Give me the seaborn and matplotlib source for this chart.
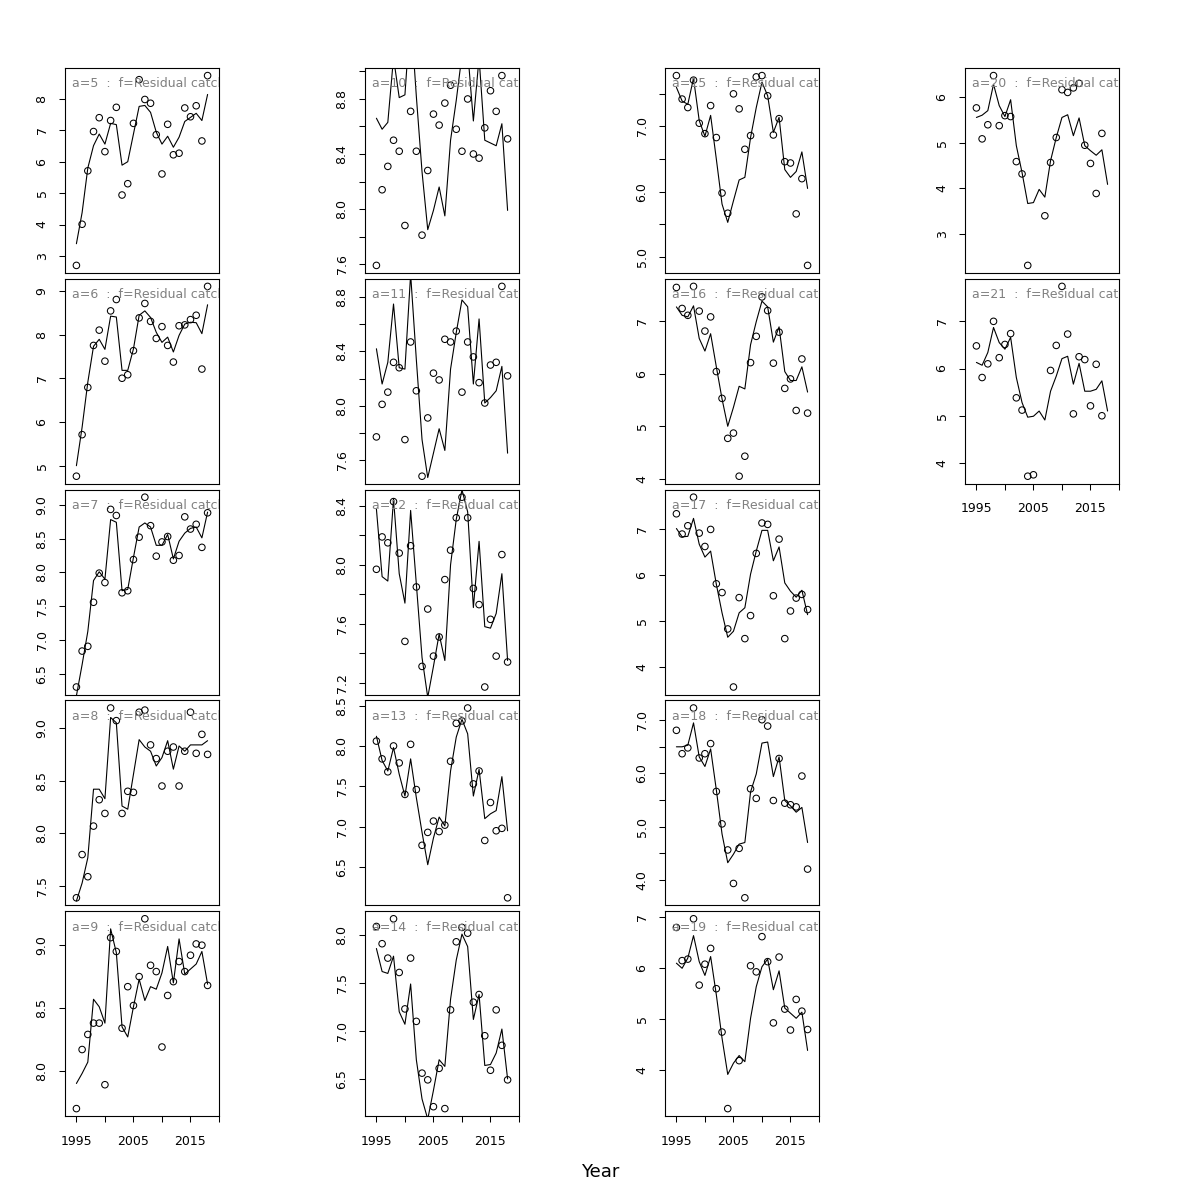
"""
Residual catch fits by age: observed (open circles) vs fitted (line), one panel per age.
"""

import numpy as np
import pandas as pd
import matplotlib
matplotlib.use("Agg")
import matplotlib.pyplot as plt
import seaborn as sns

nan = np.nan

YEARS = list(range(1995, 2019))

# observed (points) and fitted (line) values for each age
OBS_5 = [2.70, 4.01, 5.71, 6.96, 7.40, 6.32, 7.31, 7.73, 4.94, 5.30, 7.22, 8.61,
         7.98, 7.86, 6.86, 5.61, 7.19, 6.22, 6.27, 7.71, 7.43, 7.78, 6.66, 8.74]
FIT_5 = [3.39, 4.38, 5.80, 6.51, 6.88, 6.56, 7.22, 7.18, 5.89, 6.00, 6.88, 7.76,
         7.79, 7.57, 6.94, 6.56, 6.81, 6.46, 6.78, 7.28, 7.41, 7.54, 7.31, 8.14]

OBS_6 = [4.76, 5.71, 6.79, 7.75, 8.10, 7.39, 8.54, 8.80, 7.00, 7.08, 7.63, 8.38,
         8.71, 8.30, 7.91, 8.18, 7.75, 7.37, 8.20, 8.22, 8.34, 8.44, 7.21, 9.10]
FIT_6 = [5.00, 5.88, 6.91, 7.73, 7.89, 7.66, 8.42, 8.40, 7.18, 7.18, 7.67, 8.44,
         8.54, 8.39, 8.05, 7.82, 7.94, 7.60, 7.98, 8.24, 8.28, 8.27, 8.02, 8.68]

OBS_7 = [6.31, 6.84, 6.91, 7.56, 7.99, 7.85, 8.93, 8.84, 7.70, 7.73, 8.19, 8.52,
         9.11, 8.69, 8.24, 8.45, 8.53, 8.18, 8.25, 8.82, 8.64, 8.71, 8.37, 8.88]
FIT_7 = [6.18, 6.64, 7.13, 7.88, 8.01, 7.90, 8.78, 8.74, 7.73, 7.75, 8.22, 8.67,
         8.73, 8.67, 8.40, 8.40, 8.56, 8.20, 8.46, 8.58, 8.65, 8.67, 8.51, 8.89]

OBS_8 = [7.39, 7.80, 7.59, 8.07, 8.32, 8.19, 9.19, 9.07, 8.19, 8.40, 8.39, 9.15,
         9.17, 8.84, 8.71, 8.45, 8.78, 8.82, 8.45, 8.78, 9.15, 8.76, 8.94, 8.75]
FIT_8 = [7.36, 7.53, 7.77, 8.42, 8.42, 8.33, 9.10, 9.05, 8.26, 8.23, 8.56, 8.89,
         8.82, 8.78, 8.64, 8.72, 8.88, 8.61, 8.83, 8.78, 8.84, 8.84, 8.84, 8.88]

OBS_9 = [7.70, 8.17, 8.29, 8.38, 8.38, 7.89, 9.06, 8.95, 8.34, 8.67, 8.52, 8.75,
         9.21, 8.84, 8.79, 8.19, 8.60, 8.71, 8.87, 8.79, 8.92, 9.01, 9.00, 8.68]
FIT_9 = [7.90, 7.98, 8.07, 8.57, 8.51, 8.38, 9.13, 8.94, 8.35, 8.27, 8.51, 8.73,
         8.56, 8.67, 8.65, 8.78, 8.99, 8.70, 9.05, 8.77, 8.81, 8.85, 8.95, 8.69]

OBS_10 = [7.59, 8.14, 8.31, 8.50, 8.42, 7.88, 8.71, 8.42, 7.81, 8.28, 8.69, 8.61,
          8.77, 8.90, 8.58, 8.42, 8.80, 8.40, 8.37, 8.59, 8.86, 8.71, 8.97, 8.51]
FIT_10 = [8.66, 8.58, 8.63, 9.10, 8.81, 8.83, 9.43, 8.82, 8.27, 7.85, 7.99, 8.16,
          7.95, 8.50, 8.79, 9.12, 9.15, 8.64, 9.10, 8.50, 8.48, 8.46, 8.62, 7.99]

OBS_11 = [7.77, 8.01, 8.10, 8.32, 8.28, 7.75, 8.47, 8.11, 7.48, 7.91, 8.24, 8.19,
          8.49, 8.47, 8.55, 8.10, 8.47, 8.36, 8.17, 8.02, 8.30, 8.32, 8.88, 8.22]
FIT_11 = [8.42, 8.16, 8.32, 8.75, 8.28, 8.27, 8.97, 8.34, 7.75, 7.47, 7.65, 7.83,
          7.67, 8.27, 8.54, 8.78, 8.73, 8.16, 8.64, 8.02, 8.06, 8.11, 8.29, 7.65]

OBS_12 = [7.97, 8.19, 8.15, 8.43, 8.08, 7.48, 8.13, 7.85, 7.31, 7.70, 7.38, 7.51,
          7.90, 8.10, 8.32, 8.46, 8.32, 7.84, 7.73, 7.17, 7.63, 7.38, 8.07, 7.34]
FIT_12 = [8.38, 7.92, 7.89, 8.45, 7.94, 7.74, 8.37, 7.87, 7.37, 7.10, 7.31, 7.53,
          7.35, 8.00, 8.31, 8.51, 8.36, 7.71, 8.16, 7.58, 7.57, 7.67, 7.94, 7.35]

OBS_13 = [8.06, 7.84, 7.68, 8.00, 7.79, 7.40, 8.02, 7.46, 6.77, 6.93, 7.07, 6.94,
          7.02, 7.81, 8.28, 8.31, 8.47, 7.53, 7.69, 6.83, 7.30, 6.95, 6.98, 6.12]
FIT_13 = [8.12, 7.82, 7.69, 7.98, 7.65, 7.38, 7.84, 7.36, 6.93, 6.53, 6.86, 7.12,
          7.01, 7.69, 8.11, 8.33, 8.15, 7.38, 7.71, 7.10, 7.16, 7.20, 7.62, 6.95]

OBS_14 = [8.09, 7.91, 7.76, 8.17, 7.61, 7.23, 7.76, 7.10, 6.56, 6.49, 6.21, 6.61,
          6.19, 7.22, 7.93, 8.08, 8.02, 7.30, 7.38, 6.95, 6.59, 7.22, 6.85, 6.49]
FIT_14 = [7.86, 7.62, 7.60, 7.78, 7.20, 7.07, 7.49, 6.70, 6.29, 6.08, 6.38, 6.70,
          6.63, 7.33, 7.74, 8.01, 7.88, 7.12, 7.38, 6.64, 6.65, 6.77, 7.02, 6.50]

OBS_15 = [7.78, 7.42, 7.29, 7.71, 7.05, 6.89, 7.32, 6.83, 5.98, 5.67, 7.50, 7.27,
          6.65, 6.86, 7.76, 7.78, 7.47, 6.87, 7.12, 6.46, 6.44, 5.66, 6.20, 4.87]
FIT_15 = [7.60, 7.39, 7.34, 7.74, 7.09, 6.85, 7.17, 6.50, 5.81, 5.53, 5.86, 6.18,
          6.22, 6.83, 7.29, 7.68, 7.47, 6.91, 7.14, 6.34, 6.22, 6.31, 6.61, 6.05]

OBS_16 = [7.64, 7.24, 7.11, 7.66, 7.19, 6.81, 7.08, 6.04, 5.53, 4.77, 4.87, 4.05,
          4.43, 6.21, 6.71, 7.46, 7.20, 6.20, 6.79, 5.72, 5.90, 5.30, 6.28, 5.25]
FIT_16 = [7.27, 7.11, 7.08, 7.29, 6.67, 6.43, 6.76, 6.13, 5.52, 5.00, 5.36, 5.76,
          5.71, 6.55, 6.99, 7.38, 7.27, 6.60, 6.89, 6.04, 5.87, 5.87, 6.13, 5.65]

OBS_17 = [7.32, 6.88, 7.06, 7.68, 6.90, 6.61, 6.98, 5.80, 5.61, 4.82, 3.56, 5.50,
          4.61, 5.11, 6.46, 7.12, 7.09, 5.54, 6.77, 4.61, 5.21, 5.49, 5.57, 5.24]
FIT_17 = [7.00, 6.82, 6.83, 7.22, 6.66, 6.38, 6.51, 5.79, 5.17, 4.64, 4.77, 5.17,
          5.28, 6.01, 6.51, 6.96, 6.96, 6.30, 6.60, 5.82, 5.64, 5.51, 5.66, 5.13]

OBS_18 = [6.81, 6.37, 6.48, 7.23, 6.29, 6.37, 6.56, 5.66, 5.05, 4.56, 3.93, 4.59,
          3.66, 5.71, 5.53, 7.01, 6.89, 5.49, 6.28, 5.44, 5.41, 5.37, 5.95, 4.20]
FIT_18 = [6.50, 6.50, 6.53, 6.95, 6.31, 6.13, 6.46, 5.69, 4.86, 4.32, 4.48, 4.67,
          4.70, 5.65, 5.99, 6.57, 6.59, 5.94, 6.31, 5.49, 5.39, 5.27, 5.36, 4.70]

OBS_19 = [6.80, 6.15, 6.18, 6.97, 5.67, 6.08, 6.39, 5.60, 4.75, 3.25, nan, 4.19,
          nan, 6.05, 5.93, 6.62, 6.13, 4.93, 6.22, 5.20, 4.79, 5.39, 5.16, 4.80]
FIT_19 = [6.10, 6.00, 6.20, 6.64, 6.13, 5.86, 6.23, 5.48, 4.63, 3.92, 4.14, 4.29,
          4.17, 5.02, 5.64, 6.03, 6.18, 5.58, 5.95, 5.22, 5.12, 5.02, 5.14, 4.39]

OBS_20 = [5.77, 5.09, 5.40, 6.48, 5.38, 5.60, 5.58, 4.59, 4.32, 2.31, nan, nan,
          3.40, 4.57, 5.12, 6.17, 6.11, 6.21, 6.31, 4.95, 4.55, 3.89, 5.21, nan]
FIT_20 = [5.56, 5.61, 5.71, 6.29, 5.82, 5.58, 5.95, 4.94, 4.35, 3.67, 3.69, 3.98,
          3.81, 4.61, 5.12, 5.56, 5.62, 5.16, 5.55, 4.94, 4.83, 4.73, 4.85, 4.09]

OBS_21 = [6.48, 5.81, 6.10, 7.00, 6.23, 6.51, 6.74, 5.38, 5.12, 3.72, 3.75, nan,
          nan, 5.96, 6.49, 7.74, 6.73, 5.04, 6.25, 6.19, 5.21, 6.09, 5.00, nan]
FIT_21 = [6.13, 6.07, 6.34, 6.87, 6.55, 6.41, 6.66, 5.81, 5.28, 4.97, 4.99, 5.10,
          4.91, 5.52, 5.84, 6.21, 6.26, 5.67, 6.11, 5.52, 5.52, 5.56, 5.74, 5.10]

AGES = list(range(5, 22))
SERIES = {a: (globals()[f"OBS_{a}"], globals()[f"FIT_{a}"]) for a in AGES}
FLEET = "Residual catch"
X_TICKS = [1995, 2000, 2005, 2010, 2015, 2020]
X_LABELS = ["1995", "", "2005", "", "2015", ""]


def r_pretty_unit(lo, hi, n=5, h=0.8, h5=1.7):
    """Tick step the way R's axis() picks it."""
    cell = (hi - lo) / n
    base = 10 ** np.floor(np.log10(cell))
    unit = base
    if 2 * base - cell < h * (cell - unit):
        unit = 2 * base
        if 5 * base - cell < h5 * (cell - unit):
            unit = 5 * base
            if 10 * base - cell < h * (cell - unit):
                unit = 10 * base
    return unit


def _style():
    sns.set_theme(style="white")
    plt.rcParams.update({
        "font.family": ["DejaVu Sans"],
        "axes.edgecolor": "black",
        "axes.linewidth": 0.8,
        "text.color": "black",
        "axes.labelcolor": "black",
        "xtick.color": "black",
        "ytick.color": "black",
    })


def main():
    _style()
    fig = plt.figure(figsize=(12, 12), dpi=100)
    W = H = 1200.0
    pw, ph = 154, 205
    axes = []

    for a in AGES:
        col = min((a - 5) // 5, 3)
        row = (a - 5) % 5 if a < 20 else a - 20
        left = 65 + 300 * col
        top = 68 + 210.8 * row
        ax = fig.add_axes([left / W, 1 - (top + ph) / H, pw / W, ph / H])
        obs, fit = SERIES[a]
        df = pd.DataFrame({"year": YEARS, "obs": obs, "fit": fit})

        sns.lineplot(data=df, x="year", y="fit", ax=ax, color="black",
                     linewidth=0.8, estimator=None)
        sns.scatterplot(data=df.dropna(), x="year", y="obs", ax=ax, marker="o",
                        s=22, facecolor="none", edgecolor="black", linewidth=0.75)

        lo, hi = np.nanmin(obs), np.nanmax(obs)
        pad = 0.04 * (hi - lo)
        ax.set_xlim(1993, 2020)
        ax.set_ylim(lo - pad, hi + pad)
        ax.set_xlabel("")
        ax.set_ylabel("")

        unit = r_pretty_unit(lo - pad, hi + pad)
        yt = np.arange(np.ceil((lo - pad) / unit) * unit, hi + pad + 1e-9, unit)
        dec = 0 if unit >= 1 else 1
        ax.set_yticks(yt, labels=[f"{v:.{dec}f}" for v in yt])

        bottom = a in (9, 14, 19, 21)
        if bottom:
            ax.set_xticks(X_TICKS, labels=X_LABELS)
        else:
            ax.set_xticks([])

        ax.tick_params(axis="both", direction="out", length=4.3, width=0.75,
                       labelsize=9, left=True, bottom=bottom, colors="black")
        ax.tick_params(axis="y", labelrotation=90, pad=7.5)
        ax.tick_params(axis="x", pad=9)
        for lbl in ax.get_yticklabels():
            lbl.set_va("center")

        ax.text(0.045, 0.922, f"a={a}  :  f={FLEET}", transform=ax.transAxes,
                color="#808080", fontsize=9, ha="left", va="center", clip_on=True)
        axes.append(ax)

    # drop y labels that would overlap, like R does
    fig.canvas.draw()
    renderer = fig.canvas.get_renderer()
    probe = fig.text(0, 0, "m", fontsize=9)
    gap = 1.1 * probe.get_window_extent(renderer).width
    probe.remove()
    for ax in axes:
        ticks = ax.get_yticks()
        lbls = ax.get_yticklabels()
        texts = [t.get_text() for t in lbls]
        exts = [t.get_window_extent(renderer).height for t in lbls]
        pos = ax.transData.transform(
            np.column_stack([np.full(len(ticks), 2000.0), ticks]))[:, 1]
        last = -np.inf
        shown = []
        for p, e, s in zip(pos, exts, texts):
            if p - e / 2 - last >= gap:
                shown.append(s)
                last = p + e / 2
            else:
                shown.append("")
        ax.set_yticks(ticks, labels=shown)
        for lbl in ax.get_yticklabels():
            lbl.set_rotation(90)
            lbl.set_va("center")

    fig.text(0.5, 1 - 1172 / H, "Year", ha="center", va="center", fontsize=13,
             color="black")

    fig.savefig("out.png", dpi=100)
    plt.close(fig)


if __name__ == "__main__":
    main()
